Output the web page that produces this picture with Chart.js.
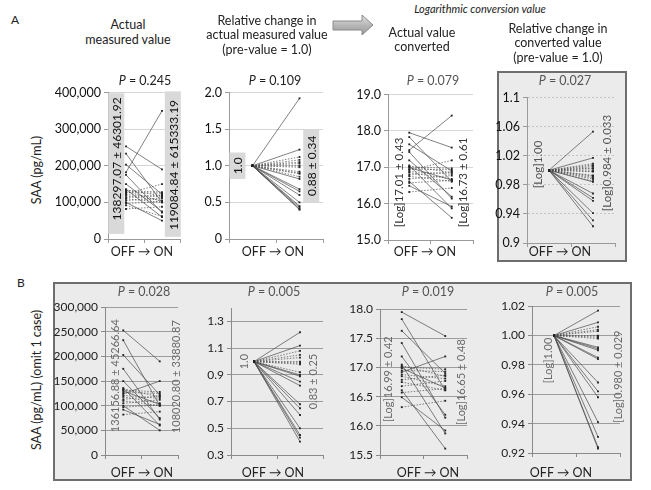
<!DOCTYPE html>
<html>
<head>
<meta charset="utf-8">
<script src="https://cdn.jsdelivr.net/npm/chart.js@4.4.1/dist/chart.umd.min.js"></script>
<style>
body { margin:0; width:651px; height:490px; position:relative; background:#fff; overflow:hidden;
       font-family: Lato, "Open Sans", sans-serif; color:#222; }
.t { position:absolute; white-space:nowrap; transform:translate(-50%,-50%); font-size:12.5px; line-height:1; }
.g { color:#555; }
.rot { transform:translate(-50%,-50%) rotate(-90deg); }
.frame { position:absolute; background:#ebebeb; border:2px solid #6e6e6e; box-sizing:border-box; }
.cv { position:absolute; }
</style>
</head>
<body>
<div class="frame" style="left:497px;top:71px;width:130px;height:191px"></div>
<div class="frame" style="left:53px;top:282px;width:579px;height:199px"></div>

<svg style="position:absolute;left:332px;top:14px" width="44" height="24">
  <defs><linearGradient id="ag" x1="0" y1="0" x2="0" y2="1">
    <stop offset="0" stop-color="#e2e2e2"/><stop offset="0.55" stop-color="#b4b4b4"/><stop offset="1" stop-color="#9c9c9c"/>
  </linearGradient></defs>
  <polygon points="1,7 30,7 30,1 41,11 30,21 30,16 1,16" fill="url(#ag)" stroke="#8a8a8a" stroke-width="1"/>
</svg>

<div id="charts"></div>

<div class="t" style="left:15px;top:20px;font-size:12px">A</div>
<div class="t" style="left:21px;top:283px;font-size:12px">B</div>
<div class="t" style="left:480px;top:8px;font-size:11px;font-style:italic">Logarithmic conversion value</div>
<div class="t" style="left:128px;top:25px">Actual</div>
<div class="t" style="left:128px;top:40px">measured value</div>
<div class="t" style="left:267px;top:21px">Relative change in</div>
<div class="t" style="left:267px;top:35px">actual measured value</div>
<div class="t" style="left:267px;top:50px">(pre-value = 1.0)</div>
<div class="t" style="left:422px;top:33px">Actual value</div>
<div class="t" style="left:422px;top:47px">converted</div>
<div class="t" style="left:558px;top:29px">Relative change in</div>
<div class="t" style="left:558px;top:43px">converted value</div>
<div class="t" style="left:558px;top:58px">(pre-value = 1.0)</div>

<div class="t" style="left:145px;top:81px"><i>P</i> = 0.245</div>
<div class="t" style="left:275px;top:81px"><i>P</i> = 0.109</div>
<div class="t g" style="left:433px;top:81px"><i>P</i> = 0.079</div>
<div class="t g" style="left:565px;top:81px"><i>P</i> = 0.027</div>
<div class="t g" style="left:144px;top:292px"><i>P</i> = 0.028</div>
<div class="t g" style="left:274px;top:292px"><i>P</i> = 0.005</div>
<div class="t g" style="left:428px;top:292px"><i>P</i> = 0.019</div>
<div class="t g" style="left:572px;top:292px"><i>P</i> = 0.005</div>

<div class="t" style="left:142px;top:252px">OFF → ON</div>
<div class="t" style="left:273px;top:252px">OFF → ON</div>
<div class="t" style="left:425px;top:252px">OFF → ON</div>
<div class="t" style="left:560px;top:252px">OFF → ON</div>
<div class="t" style="left:142px;top:473px">OFF → ON</div>
<div class="t" style="left:273px;top:473px">OFF → ON</div>
<div class="t" style="left:428px;top:473px">OFF → ON</div>
<div class="t" style="left:561px;top:473px">OFF → ON</div>

<div class="t rot" style="left:37px;top:170px">SAA (pg/mL)</div>
<div class="t rot" style="left:37px;top:380px">SAA (pg/mL) (omit 1 case)</div>

<script>
const cats = ['OFF', 'ON'];
const PRE = 1.0;

// A: all cases
const offA1 = [253000, 233000, 203000, 182000, 175000, 150000, 136000, 134000, 132000, 130000, 127000,
               124000, 121000, 118000, 113000, 110000, 105000, 100000, 97000, 92000, 82000];
const onA1  = [190000, 100000, 122000, 350000, 72000, 75000, 60000, 118000, 128000, 103000, 125000,
               150000, 115000, 105000, 120000, 100000, 112000, 50000, 102000, 62000, 88000];
const onA2  = [1.92, 1.22, 1.12, 1.08, 1.05, 1.03, 1.00, 0.98, 0.92, 0.90, 0.89,
               0.85, 0.82, 0.68, 0.65, 0.60, 0.50, 0.45, 0.43, 0.41, 0.40];
const offA3 = [17.95, 17.83, 17.63, 17.47, 17.42, 17.19, 17.05, 17.03, 17.01, 16.99, 16.95,
               16.92, 16.88, 16.85, 16.79, 16.75, 16.68, 16.61, 16.57, 16.49, 16.32];
const onA3  = [17.54, 16.61, 16.90, 18.42, 16.14, 16.19, 15.87, 16.85, 16.97, 16.65, 16.93,
               17.19, 16.81, 16.68, 16.87, 16.61, 16.77, 15.61, 16.64, 15.92, 16.43];
const onA4  = [1.053, 1.017, 1.009, 1.007, 1.005, 1.003, 1.002, 0.999, 0.998, 0.993, 0.992,
               0.990, 0.988, 0.985, 0.984, 0.968, 0.962, 0.958, 0.941, 0.931, 0.923];

// B: omit 1 case
const offB1 = [253000, 233000, 203000, 175000, 150000, 136000, 134000, 132000, 130000, 127000,
               124000, 121000, 118000, 113000, 110000, 105000, 100000, 97000, 92000, 82000];
const onB1  = [190000, 100000, 122000, 72000, 75000, 60000, 118000, 128000, 103000, 125000,
               150000, 115000, 105000, 120000, 100000, 112000, 50000, 102000, 62000, 88000];
const onB2  = [1.22, 1.12, 1.08, 1.05, 1.03, 1.00, 0.99, 0.98, 0.92, 0.90,
               0.89, 0.85, 0.82, 0.68, 0.65, 0.60, 0.50, 0.45, 0.43, 0.40];
const offB3 = [17.95, 17.83, 17.63, 17.42, 17.19, 17.05, 17.03, 17.01, 16.99, 16.95,
               16.92, 16.88, 16.85, 16.79, 16.75, 16.68, 16.61, 16.57, 16.49, 16.32];
const onB3  = [17.54, 16.61, 16.90, 16.14, 16.19, 15.87, 16.85, 16.97, 16.65, 16.93,
               17.19, 16.81, 16.68, 16.87, 16.61, 16.77, 15.61, 16.64, 15.92, 16.43];
const onB4  = [1.017, 1.009, 1.006, 1.004, 1.003, 1.000, 0.999, 0.998, 0.992, 0.991,
               0.990, 0.985, 0.984, 0.968, 0.962, 0.958, 0.941, 0.931, 0.924, 0.923];

// tick labels of the B2 axis (axis runs on to 1.4 without a label)
const ticksB2 = [0.3, 0.5, 0.7, 0.9, 1.1, 1.3];

// mean +- SD labels drawn in data space, behind the lines
const meanLabels = {
  id: 'meanLabels',
  beforeDatasetsDraw(chart, args, opts) {
    const { ctx, scales: { x, y } } = chart;
    (opts.items || []).forEach(it => {
      const px = x.getPixelForValue(it.at);
      ctx.save();
      if (it.box) {
        const y1 = y.getPixelForValue(it.box[1]), y0 = y.getPixelForValue(it.box[0]);
        ctx.fillStyle = opts.boxColor;
        ctx.fillRect(px - 8, y1, 16, y0 - y1);
      }
      ctx.translate(px, y.getPixelForValue(it.y));
      ctx.rotate(-Math.PI / 2);
      ctx.font = opts.font;
      ctx.fillStyle = opts.color;
      ctx.textAlign = 'center';
      ctx.textBaseline = 'middle';
      ctx.fillText(it.text, 0, 1);
      ctx.restore();
    });
  }
};

const W = 58, PT = 10, PR = 14, H = 14;

function panel(area, off, on, o) {
  const wrap = document.createElement('div');
  wrap.className = 'cv';
  wrap.style.left = (area[0] - W) + 'px';
  wrap.style.top = (area[1] - PT) + 'px';
  wrap.style.width = (area[2] - area[0] + W + PR) + 'px';
  wrap.style.height = (area[3] - area[1] + PT + H) + 'px';
  const cv = document.createElement('canvas');
  wrap.appendChild(cv);
  document.getElementById('charts').appendChild(wrap);

  const span = o.max - o.min;
  const datasets = on.map((v, i) => {
    const a = Array.isArray(off) ? off[i] : off;
    return {
      data: [a, v],
      borderColor: '#4a4a4a',
      borderWidth: 0.7,
      borderDash: Math.abs(v - a) < 0.08 * span ? [1.5, 1.5] : [],
      pointStyle: 'rect',
      pointRadius: 1.3,
      pointBackgroundColor: '#222',
      pointBorderColor: '#222',
      pointBorderWidth: 0,
      clip: false
    };
  });

  let buildTicks;
  if (o.ticks) buildTicks = (s) => { s.ticks = o.ticks.map(v => ({ value: v })); };

  new Chart(cv, {
    type: 'line',
    data: { labels: cats, datasets },
    plugins: [meanLabels],
    options: {
      responsive: true,
      maintainAspectRatio: false,
      animation: false,
      layout: { padding: { top: PT, right: PR, left: 0, bottom: 0 } },
      plugins: {
        legend: { display: false },
        tooltip: { enabled: false },
        meanLabels: { items: o.labels, font: o.labelFont, color: o.labelColor, boxColor: '#d9d9d9' }
      },
      scales: {
        x: {
          type: 'category',
          offset: true,
          ticks: { display: false },
          grid: { drawOnChartArea: false, drawTicks: true, tickLength: 4, offset: true, color: o.axis },
          border: { color: o.axis },
          afterFit(s) { s.height = H; }
        },
        y: {
          min: o.min, max: o.max,
          ticks: {
            stepSize: o.step, padding: 3, color: o.tickColor,
            font: { family: 'Lato', size: o.tickSize },
            callback: o.fmt
          },
          afterBuildTicks: buildTicks,
          grid: { color: o.grid, tickColor: o.axis, tickLength: 4 },
          border: { color: o.axis, dash: o.dash || [] },
          afterFit(s) { s.width = W; }
        }
      }
    }
  });
}

const fmtInt = v => v.toLocaleString('en-US');
const fmt1 = v => v === 0 ? '0' : v.toFixed(1);
const fmt2 = v => v.toFixed(2);
const fmtTrim = v => String(+v.toFixed(2));

const Aaxis = { axis: '#9a9a9a', grid: '#d6d6d6', tickColor: '#111', tickSize: 12.5 };
const Baxis = { axis: '#8a8a8a', grid: '#9c9c9c', tickColor: '#222', tickSize: 12 };

panel([108, 92, 180, 239], offA1, onA1, { ...Aaxis, min: 0, max: 400000, step: 100000, fmt: fmtInt,
  labelFont: '12px Lato', labelColor: '#111',
  labels: [{ at: -0.27, y: 219000, text: '138297.07 ± 46301.92', box: [14000, 398000] },
           { at: 1.3, y: 202000, text: '119084.84 ± 615333.19', box: [6000, 403000] }] });

panel([229, 92, 323, 239], PRE, onA2, { ...Aaxis, min: 0, max: 2, step: 0.5, fmt: fmt1,
  labelFont: '12px Lato', labelColor: '#111',
  labels: [{ at: -0.32, y: 1.0, text: '1.0', box: [0.82, 1.18] },
           { at: 1.25, y: 1.0, text: '0.88 ± 0.34', box: [0.5, 1.5] }] });

panel([388, 94, 473, 240], offA3, onA3, { ...Aaxis, min: 15, max: 19, step: 1, fmt: fmt1,
  labelFont: '11.5px Lato', labelColor: '#333',
  labels: [{ at: -0.26, y: 16.58, text: '[Log]17.01 ± 0.43' },
           { at: 1.24, y: 16.58, text: '[Log]16.73 ± 0.61' }] });

panel([527, 97, 615, 243], PRE, onA4, { ...Aaxis, grid: '#c4c4c4', dash: [2, 2], min: 0.9, max: 1.1, step: 0.04, fmt: fmtTrim,
  labelFont: '11.5px Lato', labelColor: '#555',
  labels: [{ at: -0.27, y: 1.008, text: '[Log]1.00' },
           { at: 1.30, y: 1.01, text: '[Log]0.984 ± 0.033' }] });

panel([105, 307, 178, 455], offB1, onB1, { ...Baxis, min: 0, max: 300000, step: 50000, fmt: fmtInt,
  labelFont: '11px Lato', labelColor: '#6a6a6a',
  labels: [{ at: -0.23, y: 161000, text: '136156.88 ± 45266.64' },
           { at: 1.42, y: 159000, text: '108020.80 ± 33880.87' }] });

panel([231, 308, 323, 455], PRE, onB2, { ...Baxis, min: 0.3, max: 1.4, ticks: ticksB2, fmt: fmt1,
  labelFont: '11px Lato', labelColor: '#6a6a6a',
  labels: [{ at: -0.24, y: 1.0, text: '1.0' },
           { at: 1.28, y: 0.85, text: '0.83 ± 0.25' }] });

panel([380, 309, 467, 455], offB3, onB3, { ...Baxis, min: 15.5, max: 18, step: 0.5, fmt: fmt1,
  labelFont: '11px Lato', labelColor: '#6a6a6a',
  labels: [{ at: -0.32, y: 16.8, text: '[Log]16.99 ± 0.42' },
           { at: 1.34, y: 16.75, text: '[Log]16.65 ± 0.48' }] });

panel([532, 306, 620, 453], PRE, onB4, { ...Baxis, min: 0.92, max: 1.02, step: 0.02, fmt: fmt2,
  labelFont: '11px Lato', labelColor: '#6a6a6a',
  labels: [{ at: -0.14, y: 0.983, text: '[Log]1.00' },
           { at: 1.45, y: 0.972, text: '[Log]0.980 ± 0.029' }] });
</script>
</body>
</html>
